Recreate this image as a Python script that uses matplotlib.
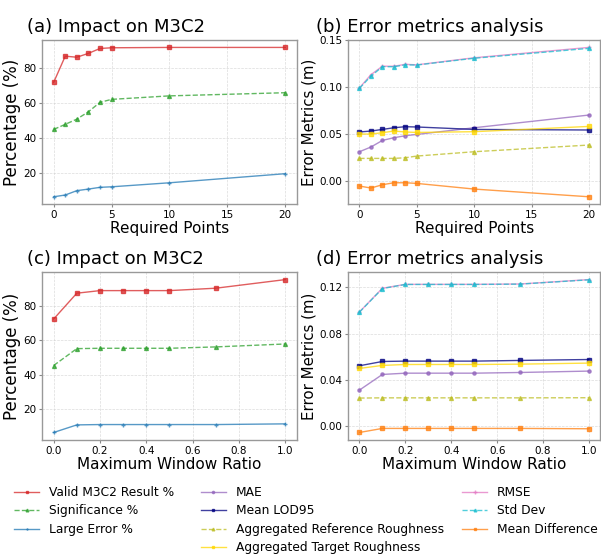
import matplotlib
matplotlib.use("Agg")
from matplotlib import pyplot as plt
from matplotlib.ticker import MultipleLocator

# Required points (top row)
pontos = [0, 1, 2, 3, 4, 5, 10, 20]
valid_a = [72.0, 87.0, 86.4, 88.6, 91.4, 91.8, 92.0, 92.0]
signif_a = [45.1, 48.0, 51.0, 55.2, 60.6, 62.3, 64.3, 66.1]
large_a = [6.6, 7.6, 10.1, 11.0, 12.0, 12.3, 14.6, 19.8]

mae_b = [0.0316, 0.0366, 0.0436, 0.0465, 0.0486, 0.0500, 0.0571, 0.0706]
lod_b = [0.0526, 0.0536, 0.0553, 0.0571, 0.0582, 0.0579, 0.0553, 0.0547]
ref_b = [0.0245, 0.0245, 0.0245, 0.0245, 0.0252, 0.0270, 0.0316, 0.0387]
tgt_b = [0.0504, 0.0504, 0.0518, 0.0536, 0.0526, 0.0521, 0.0529, 0.0585]
rmse_b = [0.0995, 0.1135, 0.1225, 0.1225, 0.1245, 0.1240, 0.1315, 0.1425]
std_b = [0.0990, 0.1120, 0.1220, 0.1220, 0.1240, 0.1238, 0.1310, 0.1415]
diff_b = [-0.0049, -0.0070, -0.0035, -0.0014, -0.0014, -0.0021, -0.0081, -0.0163]

# Maximum window ratio (bottom row)
razao = [0.0, 0.1, 0.2, 0.3, 0.4, 0.5, 0.7, 1.0]
valid_c = [72.4, 87.4, 88.9, 88.9, 88.9, 88.9, 90.3, 95.3]
signif_c = [45.4, 55.2, 55.4, 55.4, 55.4, 55.4, 56.2, 57.9]
large_c = [6.5, 10.9, 11.1, 11.1, 11.1, 11.1, 11.1, 11.5]

mae_d = [0.0314, 0.0449, 0.0460, 0.0460, 0.0460, 0.0460, 0.0466, 0.0478]
lod_d = [0.0524, 0.0561, 0.0564, 0.0564, 0.0564, 0.0564, 0.0570, 0.0578]
ref_d = [0.0245, 0.0247, 0.0247, 0.0247, 0.0247, 0.0247, 0.0247, 0.0248]
tgt_d = [0.0501, 0.0527, 0.0535, 0.0535, 0.0535, 0.0535, 0.0538, 0.0547]
rmse_d = [0.0989, 0.1193, 0.1227, 0.1227, 0.1227, 0.1227, 0.1230, 0.1268]
std_d = [0.0987, 0.1191, 0.1226, 0.1226, 0.1226, 0.1226, 0.1229, 0.1266]
diff_d = [-0.0052, -0.0017, -0.0017, -0.0017, -0.0017, -0.0017, -0.0017, -0.0020]

plt.rcParams['font.family'] = ['DejaVu Sans']

fig = plt.figure(figsize=(6.01, 5.55), dpi=100)
ax_a = fig.add_axes([0.070, 0.632, 0.424, 0.296])
ax_b = fig.add_axes([0.579, 0.632, 0.420, 0.296])
ax_c = fig.add_axes([0.070, 0.207, 0.424, 0.303])
ax_d = fig.add_axes([0.579, 0.207, 0.420, 0.303])

estilo = dict(lw=1.0, alpha=0.75)


def percentuais(ax, x, valid, signif, large):
    ax.plot(x, valid, color='tab:red', marker='s', ms=2.8, label='Valid M3C2 Result %', **estilo)
    ax.plot(x, signif, color='tab:green', marker='^', ms=2.8, ls='--', label='Significance %', **estilo)
    ax.plot(x, large, color='tab:blue', marker='+', ms=3, label='Large Error %', **estilo)
    ax.set_ylabel('Percentage (%)', fontsize=12, labelpad=2)
    ax.yaxis.set_major_locator(MultipleLocator(20))


def metricas(ax, x, mae, lod, ref, tgt, rmse, std, diff):
    ax.plot(x, mae, color='tab:purple', marker='o', ms=2.3, label='MAE', **estilo)
    ax.plot(x, lod, color='navy', marker='s', ms=2.8, label='Mean LOD95', **estilo)
    ax.plot(x, ref, color='tab:olive', marker='^', ms=2.8, ls='--', label='Aggregated Reference Roughness', **estilo)
    ax.plot(x, tgt, color='gold', marker='s', ms=2.8, label='Aggregated Target Roughness', **estilo)
    ax.plot(x, rmse, color='tab:pink', marker='+', ms=3.5, label='RMSE', **estilo)
    ax.plot(x, std, color='tab:cyan', marker='^', ms=2.8, ls='--', label='Std Dev', **estilo)
    ax.plot(x, diff, color='tab:orange', marker='s', ms=2.8, label='Mean Difference', **estilo)
    ax.set_ylabel('Error Metrics (m)', fontsize=10.8, labelpad=2)


percentuais(ax_a, pontos, valid_a, signif_a, large_a)
metricas(ax_b, pontos, mae_b, lod_b, ref_b, tgt_b, rmse_b, std_b, diff_b)
percentuais(ax_c, razao, valid_c, signif_c, large_c)
metricas(ax_d, razao, mae_d, lod_d, ref_d, tgt_d, rmse_d, std_d, diff_d)

ax_b.yaxis.set_major_locator(MultipleLocator(0.05))
ax_d.yaxis.set_major_locator(MultipleLocator(0.04))
ax_a.xaxis.set_major_locator(MultipleLocator(5))
ax_b.xaxis.set_major_locator(MultipleLocator(5))

ax_a.set_xlabel('Required Points', fontsize=11, labelpad=1)
ax_b.set_xlabel('Required Points', fontsize=11, labelpad=1)
ax_c.set_xlabel('Maximum Window Ratio', fontsize=11, labelpad=1)
ax_d.set_xlabel('Maximum Window Ratio', fontsize=11, labelpad=1)

ax_a.set_title('(a) Impact on M3C2', loc='left', x=-0.06, fontsize=13)
ax_b.set_title('(b) Error metrics analysis', loc='left', x=-0.125, fontsize=13)
ax_c.set_title('(c) Impact on M3C2', loc='left', x=-0.06, fontsize=13)
ax_d.set_title('(d) Error metrics analysis', loc='left', x=-0.125, fontsize=13)

for ax in [ax_a, ax_b, ax_c, ax_d]:
    ax.grid(True, ls='--', lw=0.5, color='#cccccc', alpha=0.7)
    ax.tick_params(labelsize=7.5, color='#888888', length=2, pad=2)
    for s in ax.spines.values():
        s.set_color('#999999')
        s.set_linewidth(1.0)

# legends at the bottom, three columns
leg_kw = dict(loc='upper left', frameon=False, fontsize=8.8, borderpad=0, markerscale=0.7,
              borderaxespad=0, handlelength=2.05, handletextpad=0.8, labelspacing=0.45)
h_a, l_a = ax_a.get_legend_handles_labels()
h_b, l_b = ax_b.get_legend_handles_labels()
fig.legend(h_a, l_a, bbox_to_anchor=(0.024, 0.1245), **leg_kw)
fig.legend(h_b[:4], l_b[:4], bbox_to_anchor=(0.334, 0.1245), **leg_kw)
fig.legend(h_b[4:], l_b[4:], bbox_to_anchor=(0.769, 0.1245), **leg_kw)

plt.savefig("out.png", dpi=100)
